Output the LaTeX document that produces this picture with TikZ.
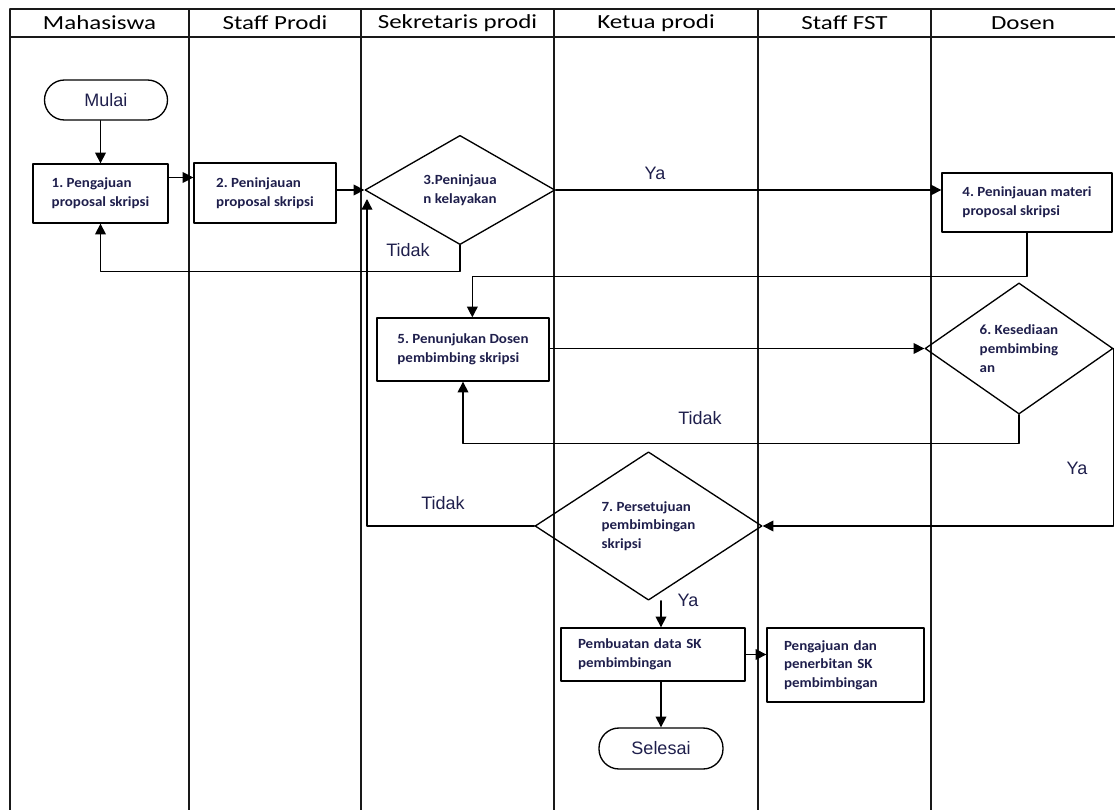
\documentclass[tikz,border=0pt]{standalone}
\usepackage{fontspec}
\usepackage{tikz}
\usetikzlibrary{arrows.meta,shapes.geometric}
\newfontfamily\kepalafont[FakeStretch=1.25]{Carlito}
\newfontfamily\kotakfont[FakeStretch=1.07]{Carlito}
\newfontfamily\labelfont{Liberation Sans}
\definecolor{ttqqzz}{rgb}{0.12,0.12,0.3}
\definecolor{uququq}{rgb}{0.1,0.1,0.1}
\tikzset{
  tabel/.style={line width=1.1pt,color=uququq},
  kepala/.style={text=black,font=\kepalafont\fontsize{15}{18}\selectfont},
  kotak/.style={draw,line width=1pt,rectangle,align=left,inner xsep=12.75pt,inner ysep=0pt,text=ttqqzz,font=\kotakfont\bfseries\frenchspacing\fontsize{10.5}{14}\selectfont},
  putusan/.style={draw,line width=1pt,diamond,align=left,inner sep=1pt,text=ttqqzz,font=\kotakfont\bfseries\frenchspacing\fontsize{10.5}{14}\selectfont},
  terminal/.style={draw,line width=1pt,rectangle,rounded corners=15pt,text=ttqqzz,font=\labelfont\fontsize{13.5}{16}\selectfont},
  ket/.style={text=ttqqzz,font=\labelfont\fontsize{13.5}{16}\selectfont},
  alur/.style={->,line width=1pt}
}
\begin{document}
\begin{tikzpicture}[line cap=round,line join=round,>={Triangle[length=8pt,width=8pt]},x=0.75pt,y=-0.75pt]
\useasboundingbox (0,0) rectangle (1115,810);
\draw[tabel] (10,9) -- (1115,9);
\draw[tabel] (10,37) -- (1115,37);
\foreach \xk in {10,189,361,554,758,931}
  \draw[tabel] (\xk,9) -- (\xk,810);
\node[kepala] (h1) at (99.5,23) {Mahasiswa};
\node[kepala] (h2) at (275,23) {Staff Prodi};
\node[kepala] (h3) at (457.5,23) {Sekretaris prodi};
\node[kepala] (h4) at (656,23) {Ketua prodi};
\node[kepala] (h5) at (844.5,23) {Staff FST};
\node[kepala] (h6) at (1023,23) {Dosen};

\node[terminal,minimum width=92.25pt,minimum height=30pt] (mulai) at (106,100) {Mulai};
\node[kotak,minimum width=101.25pt,minimum height=44.25pt] (b1) at (100.5,193.5) {1. Pengajuan\\proposal skripsi};
\node[kotak,minimum width=106.5pt,minimum height=45pt] (b2) at (265,193) {2. Peninjauan\\proposal skripsi};
\node[putusan,minimum width=142.5pt,minimum height=76.5pt] (d3) at (460,190) {3.Peninjaua\\n kelayakan};
\node[kotak,minimum width=127.5pt,minimum height=44.25pt] (b4) at (1027,202.5) {4. Peninjauan materi\\proposal skripsi};
\node[kotak,minimum width=129pt,minimum height=47.25pt] (b5) at (463,349.5) {5. Penunjukan Dosen\\pembimbing skripsi};
\node[putusan,minimum width=141pt,minimum height=96.75pt] (d6) at (1019,348.5) {6. Kesediaan\\pembimbing\\an};
\node[putusan,minimum width=170.25pt,minimum height=100.5pt] (d7) at (648.5,526) {7. Persetujuan\\pembimbingan\\skripsi};
\node[kotak,text width=112.5pt,minimum height=39.75pt] (b8) at (653,654.5) {Pembuatan data SK\\pembimbingan};
\node[kotak,text width=92.25pt,minimum height=55.5pt] (b9) at (845.5,665) {Pengajuan dan\\penerbitan SK\\pembimbingan};
\node[terminal,minimum width=93pt,minimum height=30.75pt] (sel) at (661,748.5) {Selesai};
\coordinate (balik) at (367,199);

\draw[alur] (mulai.south -| b1.north) -- (b1.north);
\draw[alur] ([yshift=12pt]b1.east) -- ([yshift=12pt]b1.east -| b2.west);
\draw[alur] (b2.east |- d3.west) -- (d3.west);
\draw[alur] (d3.east) -- (d3.east -| b4.west);
\draw[alur] (d3.south) -- ++(0,26) -| (b1.south);
\draw[alur] (b4.south) -- ++(0,44) -| ([xshift=7pt]b5.north);
\draw[alur] (b5.east |- d6.west) -- (d6.west);
\draw[alur] (d6.south) -- ++(0,29) -| (b5.south);
\draw[alur] (d6.east) |- (d7.east);
\draw[alur] (d7.west) -| (balik);
\draw[alur] (d7.south -| sel) -- (b8.north -| sel);
\draw[alur] (b8.east) -- (b8.east -| b9.west);
\draw[alur] (b8.south -| sel) -- (sel.north);

\node[ket] (ya1) at (655,173) {Ya};
\node[ket] (td1) at (408,250) {Tidak};
\node[ket] (td2) at (700,418) {Tidak};
\node[ket] (ya2) at (1077,468) {Ya};
\node[ket] (td3) at (443,503) {Tidak};
\node[ket] (ya3) at (688,600) {Ya};
\end{tikzpicture}
\end{document}
